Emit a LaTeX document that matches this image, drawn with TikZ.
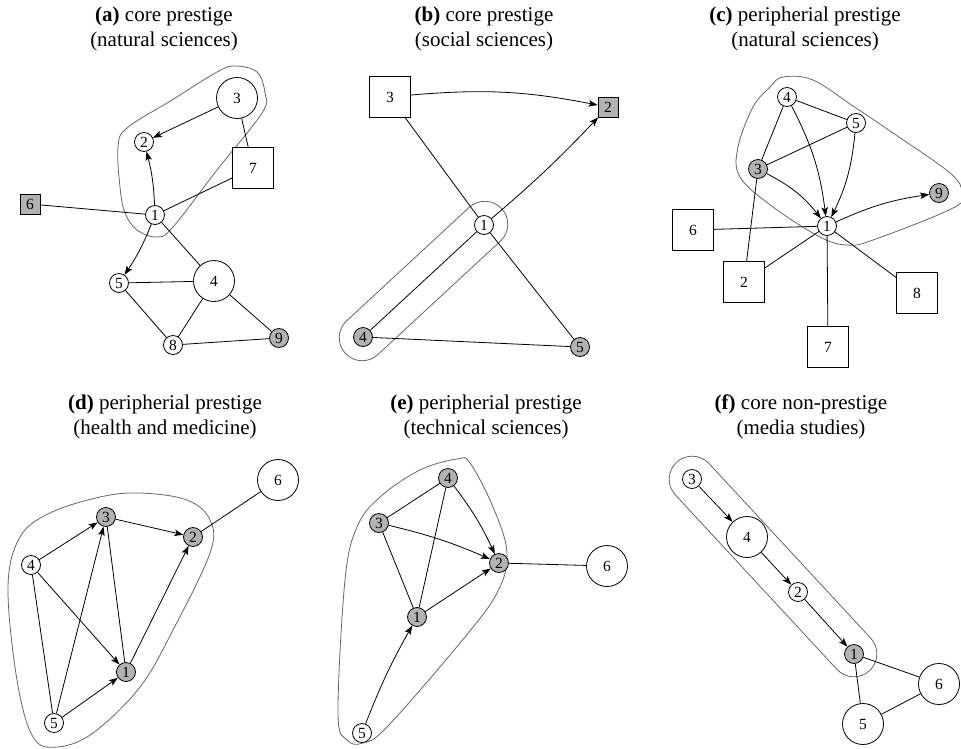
\documentclass[tikz,border=0pt]{standalone}
\usepackage{fontspec}
\setmainfont{Liberation Serif}
\usetikzlibrary{automata, arrows.meta}
\tikzset{
x=1pt, y=1pt, % one unit is one pixel of the layout
>={Stealth[length=9pt, width=6.5pt, inset=2pt]}, % arrow heads
every state/.style={draw, fill=white, line width=0.8pt, minimum size=19pt, inner sep=0pt, font=\fontsize{15.5}{15.5}\selectfont}, % small circles
big/.style={minimum size=41pt}, % large circles and squares
box/.style={draw, fill=white, rectangle, line width=0.8pt, minimum size=20pt, inner sep=0pt, font=\fontsize{15.5}{15.5}\selectfont},
core/.style={fill=black!30}, % grey members
hull/.style={draw=black!60, line width=0.8pt}, % outline of a group
capsule/.style={hull, rectangle, rounded corners=23pt, minimum height=46pt, inner sep=0pt},
title/.style={align=center, font=\fontsize{21}{25}\selectfont},
every edge/.style={draw, line width=0.8pt},
}
\begin{document}
\begin{tikzpicture}
    \useasboundingbox (0,0) rectangle (961,-748);

    % titles
    \node[title] (ta) at (164,-29) {\textbf{(a)} core prestige\\(natural sciences)};
    \node[title] (tb) at (484,-29) {\textbf{(b)} core prestige\\(social sciences)};
    \node[title] (tc) at (805,-29) {\textbf{(c)} peripherial prestige\\(natural sciences)};
    \node[title] (td) at (165,-417) {\textbf{(d)} peripherial prestige\\(health and medicine)};
    \node[title] (te) at (486,-417) {\textbf{(e)} peripherial prestige\\(technical sciences)};
    \node[title] (tf) at (801,-417) {\textbf{(f)} core non-prestige\\(media studies)};

    % (a)
    \draw[hull] plot[smooth cycle, tension=0.6] coordinates {(118,-147) (127,-128) (172,-100) (217,-72) (235,-66) (257,-72) (265,-93) (262,-113) (217,-170) (173,-227) (157,-237) (137,-230) (125,-213) (120,-187)};
    \node[state] (a1) at (155,-215) {1};
    \node[state] (a2) at (144,-142) {2};
    \node[state, big] (a3) at (237,-98) {3};
    \node[state, big] (a4) at (214,-281) {4};
    \node[state] (a5) at (119,-283) {5};
    \node[box, core] (a6) at (30,-204) {6};
    \node[box, big] (a7) at (253,-168) {7};
    \node[state] (a8) at (173,-345) {8};
    \node[state, core] (a9) at (279,-338) {9};
    \draw
    (a3) edge[->] (a2)
    (a3) edge (a7)
    (a1) edge[->, bend right=6] (a2)
    (a1) edge (a7)
    (a6) edge (a1)
    (a1) edge[->, bend left=6] (a5)
    (a1) edge (a4)
    (a5) edge (a4)
    (a5) edge (a8)
    (a4) edge (a8)
    (a4) edge (a9)
    (a8) edge (a9);

    % (b)
    \node[capsule, minimum width=213pt, rotate=42.8] (bh) at (423.5,-281) {};
    \node[state] (b1) at (484,-225) {1};
    \node[box, core] (b2) at (608,-107) {2};
    \node[box, big] (b3) at (390,-97) {3};
    \node[state, core] (b4) at (363,-337) {4};
    \node[state, core] (b5) at (580,-347) {5};
    \draw
    (b3) edge[->, bend left=8] (b2)
    (b3) edge (b1)
    (b1) edge[->, bend right=3] (b2)
    (b1) edge (b5)
    (b4) edge (b1)
    (b4) edge (b5);

    % (c)
    \draw[hull] plot[smooth cycle, tension=0.6] coordinates {(783,-77) (813,-80) (853,-106) (893,-133) (950,-173) (962,-193) (953,-208) (873,-240) (847,-245) (820,-237) (773,-207) (740,-177) (738,-147) (753,-107) (770,-87)};
    \node[state] (c1) at (827,-226) {1};
    \node[box, big] (c2) at (744,-282) {2};
    \node[state, core] (c3) at (758,-169) {3};
    \node[state] (c4) at (787,-97) {4};
    \node[state] (c5) at (856,-123) {5};
    \node[box, big] (c6) at (693,-230) {6};
    \node[box, big] (c7) at (828,-347) {7};
    \node[box, big] (c8) at (917,-293) {8};
    \node[state, core] (c9) at (939,-193) {9};
    \draw
    (c4) edge (c5)
    (c4) edge (c3)
    (c3) edge (c5)
    (c4) edge[->, bend left=10] (c1)
    (c5) edge[->, bend left=10] (c1)
    (c3) edge[->, bend left=12] (c1)
    (c1) edge[->, bend left=8] (c9)
    (c6) edge (c1)
    (c2) edge (c3)
    (c2) edge (c1)
    (c1) edge (c7)
    (c1) edge (c8);

    % (d)
    \draw[hull] plot[smooth cycle, tension=0.6] coordinates {(8,-587) (20,-537) (50,-513) (100,-497) (140,-493) (187,-500) (210,-520) (210,-553) (173,-630) (140,-687) (93,-733) (57,-747) (33,-737) (17,-680)};
    \node[state, core] (d1) at (126,-672) {1};
    \node[state, core] (d2) at (193,-537) {2};
    \node[state, core] (d3) at (106,-517) {3};
    \node[state] (d4) at (31,-565) {4};
    \node[state] (d5) at (54,-723) {5};
    \node[state, big] (d6) at (278,-480) {6};
    \draw
    (d4) edge[->] (d3)
    (d3) edge[->] (d2)
    (d3) edge (d1)
    (d1) edge[->] (d2)
    (d4) edge[->] (d1)
    (d4) edge (d5)
    (d5) edge[->] (d3)
    (d5) edge[->] (d1)
    (d2) edge (d6);

    % (e)
    \draw[hull] plot[smooth cycle, tension=0.6] coordinates {(457,-459) (420,-470) (380,-497) (357,-527) (345,-580) (338,-713) (347,-740) (363,-743) (387,-727) (460,-643) (497,-593) (507,-553) (493,-507) (470,-463)};
    \node[state, core] (e1) at (417,-617) {1};
    \node[state, core] (e2) at (499,-563) {2};
    \node[state, core] (e3) at (379,-523) {3};
    \node[state, core] (e4) at (448,-478) {4};
    \node[state] (e5) at (362,-733) {5};
    \node[state, big] (e6) at (607,-566) {6};
    \draw
    (e3) edge (e4)
    (e4) edge (e1)
    (e3) edge (e1)
    (e4) edge[->, bend left=6] (e2)
    (e3) edge[->, bend left=5] (e2)
    (e1) edge[->] (e2)
    (e5) edge[->, bend left=4] (e1)
    (e2) edge (e6);

    % (f)
    \node[capsule, minimum width=284pt, rotate=-47.2] (fh) at (773,-566.5) {};
    \node[state, core] (f1) at (854,-654) {1};
    \node[state] (f2) at (798,-592) {2};
    \node[state] (f3) at (692,-479) {3};
    \node[state, big] (f4) at (747,-537) {4};
    \node[state, big] (f5) at (863,-724) {5};
    \node[state, big] (f6) at (939,-684) {6};
    \draw
    (f3) edge[->] (f4)
    (f4) edge[->] (f2)
    (f2) edge[->] (f1)
    (f1) edge (f5)
    (f1) edge (f6)
    (f5) edge (f6);
\end{tikzpicture}
\end{document}
